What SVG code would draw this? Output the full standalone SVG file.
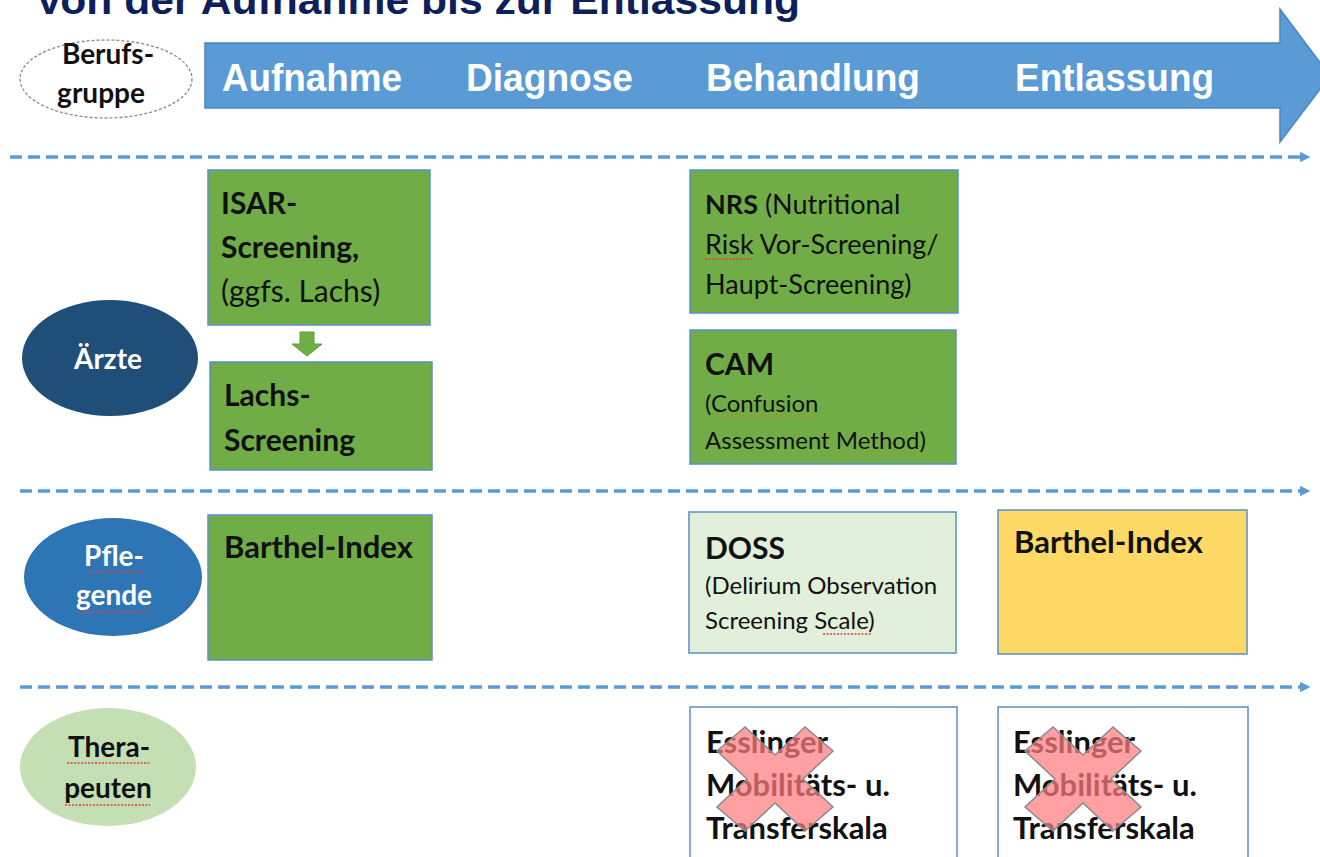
<svg xmlns="http://www.w3.org/2000/svg" width="1320" height="857" viewBox="0 0 1320 857">
  <style>
    .title { font-family: "Liberation Sans", Arial, sans-serif; font-weight: bold; font-size: 40px; fill: #0E1F5B; }
    .phase { font-family: "Liberation Sans", Arial, sans-serif; font-weight: bold; font-size: 38px; fill: #FFFFFF; }
    .t { font-family: Lato, "Open Sans", sans-serif; fill: #111111; }
    .b { font-weight: bold; }
    .grp { font-family: Lato, "Open Sans", sans-serif; font-weight: bold; font-size: 28px; text-anchor: middle; }
    .box { stroke: #5B8FC8; stroke-width: 1.5; }
    .green { fill: #70AD47; }
    .lane { fill: none; stroke: #5B9BD5; stroke-width: 3.5; stroke-dasharray: 12 6; }
    .spell { fill: none; stroke: #E04040; stroke-width: 1.3; stroke-dasharray: 2 1.5; }
    .spell2 { fill: none; stroke: #B09030; stroke-width: 1.3; stroke-dasharray: 2 1.5; }
    .cross { fill: #FF7C80; fill-opacity: 0.72; stroke: #8A8A8A; stroke-width: 1.5; }
  </style>
  <defs>
    <marker id="lanehead" viewBox="0 0 10 10" refX="2" refY="5" markerWidth="3" markerHeight="3" orient="auto">
      <path d="M0,0 L10,5 L0,10 z" fill="#5B9BD5"/>
    </marker>
    <polygon id="xmark" points="-58,-28 -30,-52 0,-24 30,-52 58,-28 28,0 58,28 30,52 0,24 -30,52 -58,28 -28,0"/>
  </defs>

  <rect width="1320" height="857" fill="#FFFFFF"/>

  <!-- title (cut off at top, as in the reference) -->
  <text class="title" x="35" y="14" textLength="765" lengthAdjust="spacingAndGlyphs">Von der Aufnahme bis zur Entlassung</text>

  <!-- big process arrow -->
  <g id="process-arrow">
    <polygon points="205,43 1280,43 1280,9 1330,76 1280,142 1280,108 205,108" fill="#5B9BD5" stroke="#4A86C0" stroke-width="1.5"/>
    <text class="phase" x="222" y="91" textLength="180" lengthAdjust="spacingAndGlyphs">Aufnahme</text>
    <text class="phase" x="466" y="91" textLength="167" lengthAdjust="spacingAndGlyphs">Diagnose</text>
    <text class="phase" x="706" y="91" textLength="214" lengthAdjust="spacingAndGlyphs">Behandlung</text>
    <text class="phase" x="1015" y="91" textLength="199" lengthAdjust="spacingAndGlyphs">Entlassung</text>
  </g>

  <!-- lane separators and small arrow -->
  <g id="connectors">
    <line class="lane" x1="10" y1="157" x2="1302" y2="157" marker-end="url(#lanehead)"/>
    <line class="lane" x1="20" y1="491" x2="1302" y2="491" marker-end="url(#lanehead)"/>
    <line class="lane" x1="20" y1="687" x2="1302" y2="687" marker-end="url(#lanehead)"/>
    <polygon points="300,332 314,332 314,344 322,344 307,356 292,344 300,344" fill="#70AD47" stroke="#5E9A3A" stroke-width="1"/>
  </g>

  <!-- Berufsgruppe -->
  <g id="berufsgruppe">
    <ellipse cx="106" cy="79" rx="86" ry="39" fill="#FFFFFF" stroke="#8A8A8A" stroke-width="1.3" stroke-dasharray="3 2"/>
    <text class="grp" x="108" y="64" fill="#111111">Berufs-</text>
    <text class="grp" x="101" y="103" fill="#111111">gruppe</text>
  </g>

  <!-- Ärzte -->
  <g id="aerzte">
    <ellipse cx="110" cy="358" rx="88" ry="58" fill="#1F4E79"/>
    <text class="grp" x="108" y="369" fill="#FFFFFF">Ärzte</text>
  </g>

  <!-- Pflegende -->
  <g id="pflegende">
    <ellipse cx="113" cy="577" rx="89" ry="59" fill="#2E75B6"/>
    <text class="grp" x="114" y="566" fill="#FFFFFF">Pfle-</text>
    <text class="grp" x="114" y="605" fill="#FFFFFF">gende</text>
    <line class="spell" x1="88" y1="572" x2="143" y2="572"/>
    <line class="spell" x1="78" y1="612" x2="152" y2="612"/>
  </g>

  <!-- Therapeuten -->
  <g id="therapeuten">
    <ellipse cx="108" cy="767" rx="88" ry="59" fill="#C5DFB4"/>
    <text class="grp" x="109" y="757" fill="#111111">Thera-</text>
    <text class="grp" x="108" y="798" fill="#111111">peuten</text>
    <line class="spell" x1="67" y1="763" x2="150" y2="763"/>
    <line class="spell" x1="65" y1="805" x2="150" y2="805"/>
  </g>

  <!-- ISAR -->
  <g id="isar">
    <rect class="box green" x="208" y="170" width="222" height="155"/>
    <text class="t b" x="221" y="214" font-size="30">ISAR-</text>
    <text class="t b" x="221" y="258" font-size="30">Screening,</text>
    <text class="t" x="221" y="302" font-size="30">(ggfs. Lachs)</text>
  </g>

  <!-- Lachs -->
  <g id="lachs">
    <rect class="box green" x="210" y="362" width="222" height="108"/>
    <text class="t b" x="224" y="406" font-size="30">Lachs-</text>
    <text class="t b" x="224" y="451" font-size="30">Screening</text>
  </g>

  <!-- NRS -->
  <g id="nrs">
    <rect class="box green" x="690" y="170" width="268" height="143"/>
    <text class="t" x="705" y="214" font-size="27"><tspan class="b">NRS</tspan> (Nutritional</text>
    <text class="t" x="705" y="254" font-size="27">Risk Vor-Screening/</text>
    <text class="t" x="705" y="294" font-size="27">Haupt-Screening)</text>
    <line class="spell" x1="705" y1="259" x2="753" y2="259"/>
  </g>

  <!-- CAM -->
  <g id="cam">
    <rect class="box green" x="690" y="330" width="266" height="134"/>
    <text class="t b" x="705" y="375" font-size="30">CAM</text>
    <text class="t" x="705" y="412" font-size="24">(Confusion</text>
    <text class="t" x="705" y="449" font-size="24">Assessment Method)</text>
    <line class="spell2" x1="712" y1="416" x2="820" y2="416"/>
    <line class="spell2" x1="838" y1="453" x2="925" y2="453"/>
  </g>

  <!-- Barthel-Index (Aufnahme) -->
  <g id="barthel-aufnahme">
    <rect class="box green" x="208" y="515" width="224" height="145"/>
    <text class="t b" x="224" y="558" font-size="31">Barthel-Index</text>
  </g>

  <!-- DOSS -->
  <g id="doss">
    <rect class="box" x="689" y="512" width="267" height="141" fill="#E2EFDA"/>
    <text class="t b" x="705" y="559" font-size="30">DOSS</text>
    <text class="t" x="705" y="594" font-size="24">(Delirium Observation</text>
    <text class="t" x="705" y="629" font-size="24">Screening Scale)</text>
    <line class="spell" x1="823" y1="634" x2="871" y2="634"/>
  </g>

  <!-- Barthel-Index (Entlassung) -->
  <g id="barthel-entlassung">
    <rect class="box" x="998" y="510" width="249" height="144" fill="#FFD966"/>
    <text class="t b" x="1014" y="553" font-size="31">Barthel-Index</text>
  </g>

  <!-- Esslinger (Behandlung) -->
  <g id="esslinger-behandlung">
    <rect class="box" x="690" y="707" width="267" height="160" fill="#FFFFFF"/>
    <text class="t b" x="706" y="753" font-size="31">Esslinger</text>
    <text class="t b" x="706" y="796" font-size="31">Mobilitäts- u.</text>
    <text class="t b" x="706" y="839" font-size="31">Transferskala</text>
    <use href="#xmark" class="cross" transform="translate(775,779)"/>
  </g>

  <!-- Esslinger (Entlassung) -->
  <g id="esslinger-entlassung">
    <rect class="box" x="998" y="707" width="250" height="160" fill="#FFFFFF"/>
    <text class="t b" x="1013" y="753" font-size="31">Esslinger</text>
    <text class="t b" x="1013" y="796" font-size="31">Mobilitäts- u.</text>
    <text class="t b" x="1013" y="839" font-size="31">Transferskala</text>
    <use href="#xmark" class="cross" transform="translate(1083,779)"/>
  </g>
</svg>
